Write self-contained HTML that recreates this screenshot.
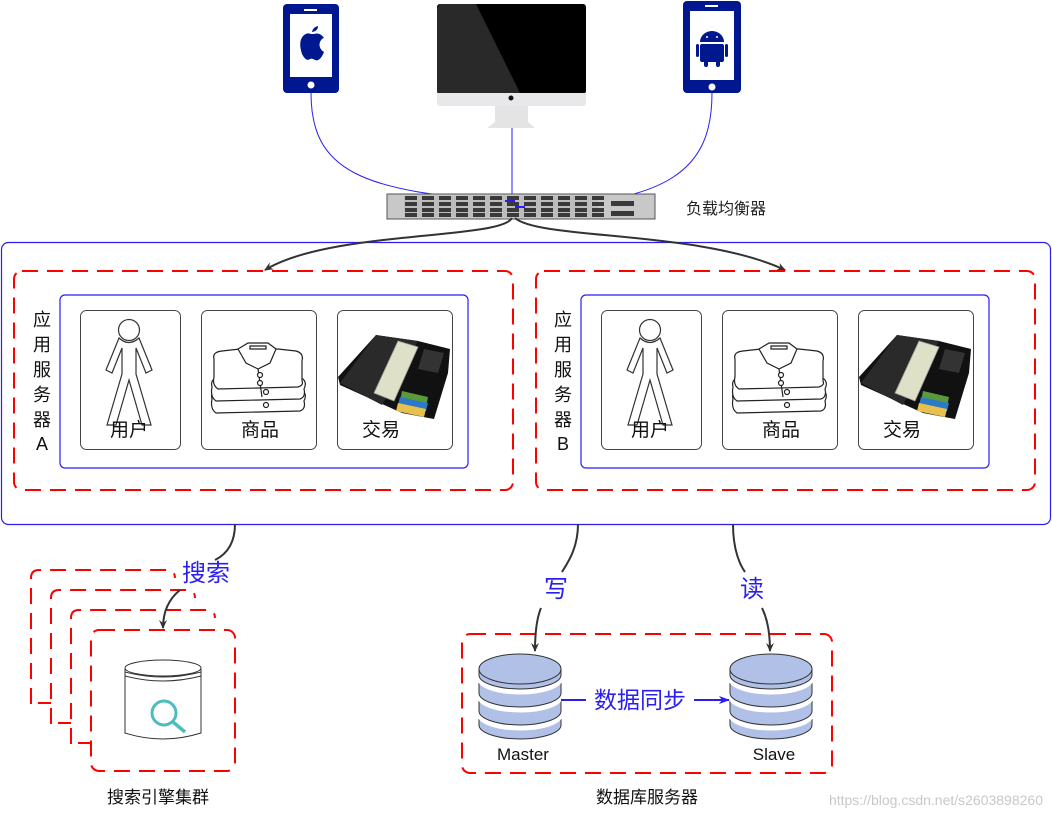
<!DOCTYPE html>
<html><head><meta charset="utf-8"><style>
html,body{margin:0;padding:0;background:#fff;}
svg{display:block;}
text{font-family:"Liberation Sans","Noto Sans CJK SC",sans-serif;}
</style></head><body>
<svg width="1052" height="817" viewBox="0 0 1052 817" xmlns="http://www.w3.org/2000/svg">
<defs>
<marker id="ab" markerWidth="10" markerHeight="10" refX="8" refY="5" orient="auto" markerUnits="userSpaceOnUse"><path d="M0,1 L9,5 L0,9 L3,5 Z" fill="#333"/></marker>
<marker id="abl" markerWidth="12" markerHeight="10" refX="10" refY="5" orient="auto" markerUnits="userSpaceOnUse"><path d="M0,1 L11,5 L0,9 L3,5 Z" fill="#2a1ff0"/></marker>
<g id="person" fill="none" stroke="#333" stroke-width="1.2">
<circle cx="0" cy="0" r="10.5"/>
<path d="M-10,8 Q0,17 10,8 L23,40 L17,43 L7,18 L7,44 L22,95 L13,95 L0,50 L-13,95 L-22,95 L-7,44 L-7,18 L-17,43 L-23,40 Z" fill="#fff"/>
</g>
<g id="shirt" fill="#fff" stroke="#222" stroke-width="1.2">
<path d="M2,52 Q0,44 8,43 L90,42 Q98,46 94,54 Q96,62 90,64 L6,66 Q0,62 2,52 Z"/>
<path d="M2,40 Q0,32 8,31 L90,30 Q98,34 94,42 Q96,50 90,52 L6,54 Q0,50 2,40 Z"/>
<path d="M4,12 Q2,5 12,4 L30,2 L68,2 L86,4 Q94,6 92,14 L92,34 Q94,38 88,40 L8,42 Q2,38 4,30 Z"/>
<path d="M28,2 L38,-4 L58,-4 L66,2 L60,16 L48,22 L36,16 Z"/>
<path d="M40,-1 L56,-1 L56,2 L40,2 Z"/>
<path d="M48,22 L52,50" />
<circle cx="50" cy="28" r="2.5"/><circle cx="50" cy="36" r="2.5"/><circle cx="56" cy="45" r="2.5"/><circle cx="56" cy="58" r="2.5"/>
</g>
<g id="wallet">
<path d="M0,42 L38,0 L80,6 L112,14 L110,38 L96,84 L64,78 L2,50 Z" fill="#111"/>
<path d="M38,0 L80,6 L44,70 L2,48 Z" fill="#2a2a2a"/>
<path d="M60,6 L80,12 L56,66 L36,58 Z" fill="#dfe0c8" stroke="#999" stroke-width="0.8"/>
<path d="M86,14 L106,18 L100,38 L80,34 Z" fill="#333"/>
<path d="M64,56 L90,62 L88,72 L62,66 Z" fill="#5a9a3a"/>
<path d="M62,62 L90,68 L88,76 L60,70 Z" fill="#2a7ac8"/>
<path d="M60,68 L88,74 L86,82 L58,76 Z" fill="#e8c050"/>
</g>
<g id="cyl">
<path d="M-41,62 L-41,72 A41,14 0 0 0 41,72 L41,62 A41,14 0 0 1 -41,62 Z" fill="#b0c0e6" stroke="#333"/>
<path d="M-41,62 A41,14 0 0 0 41,62" fill="none" stroke="#fff" stroke-width="3"/>
<path d="M-41,44 L-41,58 A41,14 0 0 0 41,58 L41,44 A41,14 0 0 1 -41,44 Z" fill="#b0c0e6" stroke="#333"/>
<path d="M-41,44 A41,14 0 0 0 41,44" fill="none" stroke="#fff" stroke-width="3"/>
<path d="M-41,26 L-41,40 A41,14 0 0 0 41,40 L41,26 A41,14 0 0 1 -41,26 Z" fill="#b0c0e6" stroke="#333"/>
<path d="M-41,26 A41,14 0 0 0 41,26" fill="none" stroke="#fff" stroke-width="3"/>
<path d="M-41,16 L-41,22 A41,14 0 0 0 41,22 L41,16 Z" fill="#b0c0e6" stroke="#333"/>
<ellipse cx="0" cy="16" rx="41" ry="15" fill="#b0c0e6" stroke="#333"/>
</g>
</defs>

<rect x="283" y="4" width="56" height="89" rx="4" fill="#00188f"/>
<rect x="290" y="14" width="42" height="63" fill="#fff"/>
<rect x="304" y="9" width="13" height="2" fill="#fff"/>
<circle cx="311" cy="85" r="3.5" fill="#fff"/>
<path d="M311,34 Q307,32 303,36 Q298,42 302,54 Q306,62 310,59 Q312,58 315,60 Q320,62 324,52 Q318,48 320,42 Q322,38 324,38 Q320,32 314,34 Z M312,32 Q313,27 318,26 Q318,31 312,32 Z" fill="#00188f"/>

<rect x="683" y="1" width="58" height="92" rx="4" fill="#00188f"/>
<rect x="690" y="11" width="44" height="69" fill="#fff"/>
<rect x="705" y="5" width="13" height="2" fill="#fff"/>
<circle cx="712" cy="87" r="3.5" fill="#fff"/>
<path d="M700,42 A12,11 0 0 1 724,42 Z" fill="#00188f"/>
<rect x="700" y="44" width="24" height="18" rx="2" fill="#00188f"/>
<rect x="696" y="44" width="3" height="13" rx="1.5" fill="#00188f"/>
<rect x="725" y="44" width="3" height="13" rx="1.5" fill="#00188f"/>
<rect x="704" y="60" width="4" height="7" rx="2" fill="#00188f"/>
<rect x="716" y="60" width="4" height="7" rx="2" fill="#00188f"/>
<circle cx="707" cy="37" r="1" fill="#fff"/><circle cx="717" cy="37" r="1" fill="#fff"/>

<rect x="437" y="4" width="149" height="90" rx="3" fill="#000"/>
<path d="M440,4 L476,4 L520,93 L437,93 L437,8 Z" fill="#3a3a3a" opacity="0.7"/>
<path d="M437,93 L586,93 L586,103 Q586,106 582,106 L441,106 Q437,106 437,103 Z" fill="#e8e8ea"/>
<circle cx="511" cy="98" r="2.5" fill="#111"/>
<path d="M495,106 L528,106 L528,122 L535,128 L487,128 L495,122 Z" fill="#e4e4e4"/>

<path d="M311,93 C311,170 360,193 512,201" fill="none" stroke="#2a1ff0" stroke-width="1"/>
<path d="M512,128 L512,201" stroke="#2a1ff0" stroke-width="1"/>
<path d="M712,93 C712,170 670,205 515,207" fill="none" stroke="#2a1ff0" stroke-width="1"/>

<rect x="387" y="194" width="268" height="25" fill="#c8c8c8" stroke="#555"/>
<rect x="404" y="196" width="194" height="21" fill="#bdbdbd"/>
<g fill="#3a3a3a">
<rect x="405" y="196" width="12" height="4"/><rect x="422" y="196" width="12" height="4"/><rect x="439" y="196" width="12" height="4"/><rect x="456" y="196" width="12" height="4"/><rect x="473" y="196" width="12" height="4"/><rect x="490" y="196" width="12" height="4"/><rect x="507" y="196" width="12" height="4"/><rect x="524" y="196" width="12" height="4"/><rect x="541" y="196" width="12" height="4"/><rect x="558" y="196" width="12" height="4"/><rect x="575" y="196" width="12" height="4"/><rect x="592" y="196" width="12" height="4"/>
<rect x="405" y="202" width="12" height="4"/><rect x="422" y="202" width="12" height="4"/><rect x="439" y="202" width="12" height="4"/><rect x="456" y="202" width="12" height="4"/><rect x="473" y="202" width="12" height="4"/><rect x="490" y="202" width="12" height="4"/><rect x="507" y="202" width="12" height="4"/><rect x="524" y="202" width="12" height="4"/><rect x="541" y="202" width="12" height="4"/><rect x="558" y="202" width="12" height="4"/><rect x="575" y="202" width="12" height="4"/><rect x="592" y="202" width="12" height="4"/>
<rect x="405" y="208" width="12" height="4"/><rect x="422" y="208" width="12" height="4"/><rect x="439" y="208" width="12" height="4"/><rect x="456" y="208" width="12" height="4"/><rect x="473" y="208" width="12" height="4"/><rect x="490" y="208" width="12" height="4"/><rect x="507" y="208" width="12" height="4"/><rect x="524" y="208" width="12" height="4"/><rect x="541" y="208" width="12" height="4"/><rect x="558" y="208" width="12" height="4"/><rect x="575" y="208" width="12" height="4"/><rect x="592" y="208" width="12" height="4"/>
<rect x="405" y="213" width="12" height="4"/><rect x="422" y="213" width="12" height="4"/><rect x="439" y="213" width="12" height="4"/><rect x="456" y="213" width="12" height="4"/><rect x="473" y="213" width="12" height="4"/><rect x="490" y="213" width="12" height="4"/><rect x="507" y="213" width="12" height="4"/><rect x="524" y="213" width="12" height="4"/><rect x="541" y="213" width="12" height="4"/><rect x="558" y="213" width="12" height="4"/><rect x="575" y="213" width="12" height="4"/><rect x="592" y="213" width="12" height="4"/>
<rect x="611" y="201" width="23" height="5"/><rect x="611" y="211" width="23" height="5"/>
</g>
<path d="M505,201 L515,201 M515,207 L525,207" stroke="#2a1ff0" stroke-width="2"/>
<text x="686" y="214" font-size="16" fill="#222">负载均衡器</text>

<rect x="1.5" y="242.5" width="1049" height="282" rx="7" fill="none" stroke="#2a1ff0" stroke-width="1.2"/>
<path d="M512,218 C500,240 330,230 265,270" fill="none" stroke="#333" stroke-width="2" marker-end="url(#ab)"/>
<path d="M515,218 C540,240 700,230 785,270" fill="none" stroke="#333" stroke-width="2" marker-end="url(#ab)"/>

<rect x="14" y="271" width="499" height="219" rx="8" fill="none" stroke="#f00" stroke-width="2" stroke-dasharray="16,9"/>
<rect x="536" y="271" width="499" height="219" rx="8" fill="none" stroke="#f00" stroke-width="2" stroke-dasharray="16,9"/>

<g font-size="18" fill="#111" text-anchor="middle">
<text x="42" y="326">应</text><text x="42" y="351">用</text><text x="42" y="376">服</text><text x="42" y="401">务</text><text x="42" y="426">器</text><text x="42" y="450">A</text>
<text x="563" y="326">应</text><text x="563" y="351">用</text><text x="563" y="376">服</text><text x="563" y="401">务</text><text x="563" y="426">器</text><text x="563" y="450">B</text>
</g>

<rect x="60" y="295" width="408" height="173" rx="5" fill="none" stroke="#2a1ff0" stroke-width="1.2"/>
<rect x="581" y="295" width="408" height="173" rx="5" fill="none" stroke="#2a1ff0" stroke-width="1.2"/>

<g fill="#fff" stroke="#444" stroke-width="1">
<rect x="80.5" y="310.5" width="100" height="139" rx="6"/>
<rect x="201.5" y="310.5" width="115" height="139" rx="6"/>
<rect x="337.5" y="310.5" width="115" height="139" rx="6"/>
<rect x="601.5" y="310.5" width="100" height="139" rx="6"/>
<rect x="722.5" y="310.5" width="115" height="139" rx="6"/>
<rect x="858.5" y="310.5" width="115" height="139" rx="6"/>
</g>
<use href="#person" x="129" y="330"/>
<use href="#person" x="650" y="330"/>
<use href="#shirt" x="210" y="347"/>
<use href="#shirt" x="731" y="347"/>
<use href="#wallet" x="338" y="335"/>
<use href="#wallet" x="859" y="335"/>
<g font-size="19" fill="#111" text-anchor="middle">
<text x="129" y="436">用户</text><text x="260" y="436">商品</text><text x="381" y="436">交易</text>
<text x="650" y="436">用户</text><text x="781" y="436">商品</text><text x="902" y="436">交易</text>
</g>

<g fill="none" stroke="#f00" stroke-width="2" stroke-dasharray="16,9">
<path d="M31,704 L31,578 Q31,570 39,570 L167,570 Q175,570 175,578"/>
<path d="M51,724 L51,598 Q51,590 59,590 L187,590 Q195,590 195,598"/>
<path d="M71,744 L71,618 Q71,610 79,610 L207,610 Q215,610 215,618"/>
<rect x="91" y="630" width="144" height="141" rx="8"/>
</g>
<path d="M38,703 L51,703 M58,723 L71,723 M78,743 L91,743" stroke="#f00" stroke-width="2"/>
<path d="M235,524 C235,545 225,555 215,560" fill="none" stroke="#333" stroke-width="2"/>
<path d="M180,590 C170,598 163,610 163,628" fill="none" stroke="#333" stroke-width="2" marker-end="url(#ab)"/>
<text x="206" y="581" font-size="24" fill="#2a1ff0" text-anchor="middle">搜索</text>
<path d="M125,669 L125,733 Q163,745 201,733 L201,669" fill="#fff" stroke="#333"/>
<ellipse cx="163" cy="668" rx="38" ry="8" fill="#fff" stroke="#333"/>
<path d="M125,672 Q163,682 201,672 M125,676 Q163,686 201,676" fill="none" stroke="#333"/>
<circle cx="164" cy="713" r="12" fill="none" stroke="#4fbcbc" stroke-width="3"/>
<path d="M173,722 L185,732" stroke="#4fbcbc" stroke-width="3.5"/>
<text x="158" y="803" font-size="17" fill="#111" text-anchor="middle">搜索引擎集群</text>

<rect x="462" y="634" width="370" height="139" rx="8" fill="none" stroke="#f00" stroke-width="2" stroke-dasharray="16,9"/>
<path d="M578,524 C578,550 566,565 562,572" fill="none" stroke="#333" stroke-width="2"/>
<path d="M541,608 C536,620 535,635 535,651" fill="none" stroke="#333" stroke-width="2" marker-end="url(#ab)"/>
<path d="M733,524 C733,550 740,565 745,572" fill="none" stroke="#333" stroke-width="2"/>
<path d="M762,608 C768,620 770,635 770,651" fill="none" stroke="#333" stroke-width="2" marker-end="url(#ab)"/>
<text x="556" y="597" font-size="24" fill="#2a1ff0" text-anchor="middle">写</text>
<text x="752" y="597" font-size="24" fill="#2a1ff0" text-anchor="middle">读</text>
<use href="#cyl" x="520" y="653"/>
<use href="#cyl" x="771" y="653"/>
<path d="M561,700 L586,700" stroke="#2a1ff0" stroke-width="2"/>
<path d="M694,700 L729,700" stroke="#2a1ff0" stroke-width="2" marker-end="url(#abl)"/>
<text x="640" y="708" font-size="23" fill="#2a1ff0" text-anchor="middle">数据同步</text>
<text x="523" y="760" font-size="17" fill="#111" text-anchor="middle">Master</text>
<text x="774" y="760" font-size="17" fill="#111" text-anchor="middle">Slave</text>
<text x="647" y="803" font-size="17" fill="#111" text-anchor="middle">数据库服务器</text>
<text x="1043" y="805" font-size="14" fill="#c8c8c8" text-anchor="end">https://blog.csdn.net/s2603898260</text>
</svg>
</body></html>
